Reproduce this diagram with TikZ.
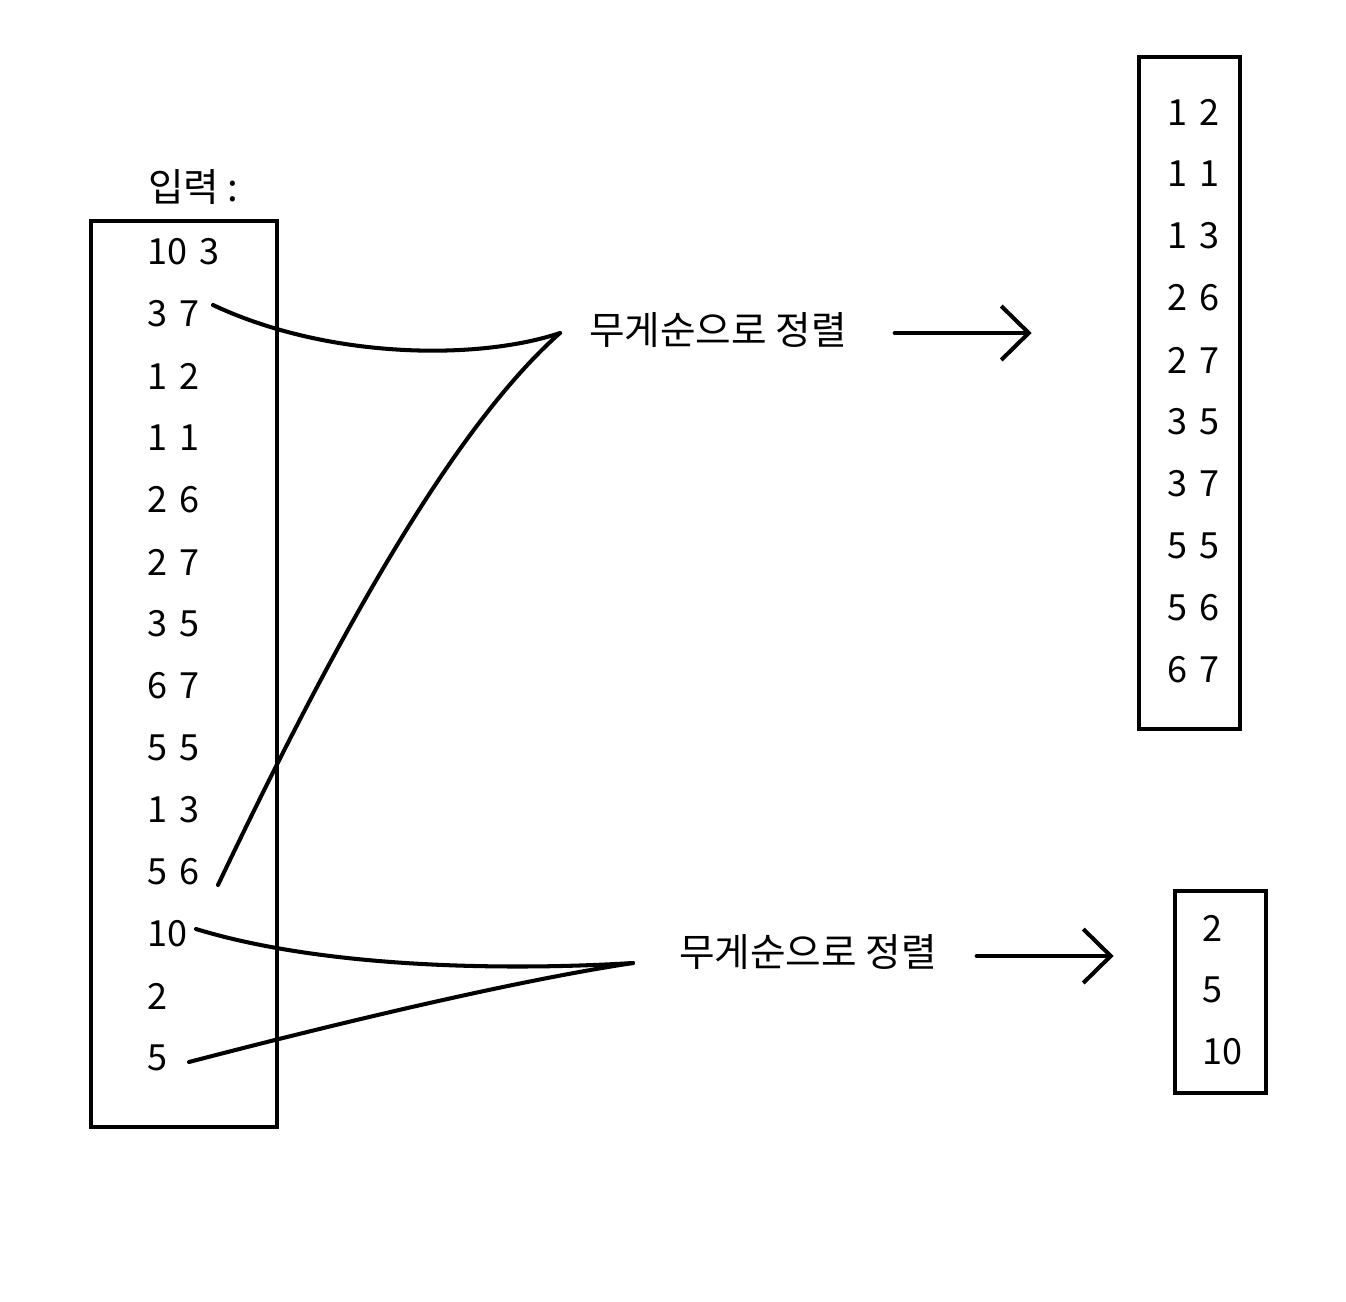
\documentclass[tikz,border=0pt]{standalone}
\usepackage{fontspec}
\setmainfont{Noto Sans CJK KR}
\newfontfamily\numfont[WordSpace=1.6]{Noto Sans CJK KR}
\usetikzlibrary{arrows.meta,calc}

\begin{document}
\begin{tikzpicture}[x=0.02cm,y=-0.02cm,line width=2.3pt,line cap=round,
  num/.style={anchor=west,inner sep=0pt,font=\numfont\fontsize{20.5}{24}\selectfont},
  lbl/.style={anchor=west,inner sep=0pt,font=\fontsize{22}{26}\selectfont},
  >={Straight Barb[length=0.55cm,width=1.08cm]}]
\useasboundingbox (0,0) rectangle (1346,1302);
\node[lbl] (title) at (146,187) {입력 :};
\draw (91,221) rectangle (277,1127);
\foreach \t [count=\i] in {10 3,3 7,1 2,1 1,2 6,2 7,3 5,6 7,5 5,1 3,5 6,10,2,5}
  \node[num] (in\i) at (145,190+62*\i) {\t};
\draw (1139,57) rectangle (1240,729);
\foreach \t [count=\i] in {1 2,1 1,1 3,2 6,2 7,3 5,3 7,5 5,5 6,6 7}
  \node[num] (out\i) at (1165,50+62*\i) {\t};
\draw (1175,891) rectangle (1266,1093);
\foreach \t [count=\i] in {2,5,10}
  \node[num] (small\i) at (1200,866+62*\i) {\t};
% first sort
\node[lbl] (sort1) at (587,330) {무게순으로 정렬};
\coordinate (hub1) at (560,333);
\draw ($(in2.west)+(68,-9)$) .. controls (330,360) and (480,360) .. (hub1);
\draw ($(in11.west)+(73,13)$) .. controls (330,650) and (450,430) .. (hub1);
\draw[->] ($(sort1.east)+(46,3)$) -- ($(sort1.east)+(183,3)$);
% second sort
\node[lbl] (sort2) at (677,952) {무게순으로 정렬};
\coordinate (hub2) at (633,963);
\draw ($(in12.west)+(51,-5)$) .. controls (330,970) and (520,970) .. (hub2);
\draw ($(in14.west)+(44,4)$) .. controls (350,1020) and (520,980) .. (hub2);
\draw[->] ($(sort2.east)+(38,4)$) -- ($(sort2.east)+(175,4)$);
\end{tikzpicture}
\end{document}
